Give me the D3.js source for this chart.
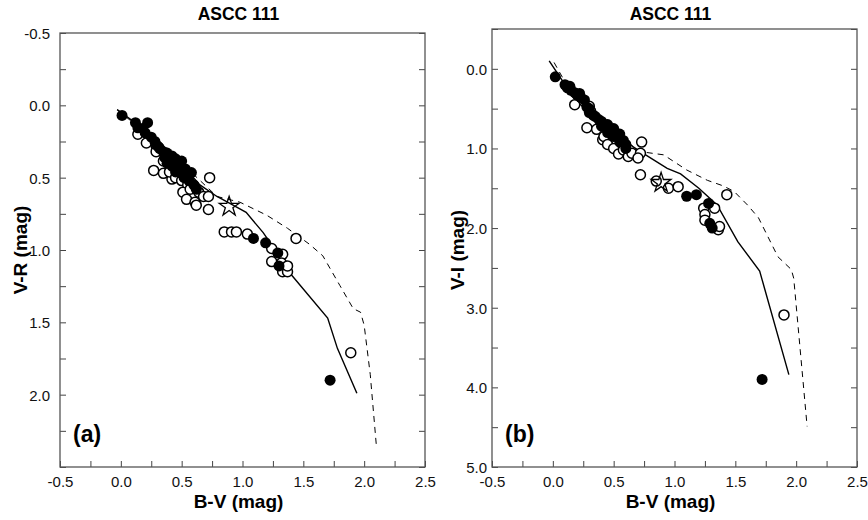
<!DOCTYPE html>
<html>
<head>
    <meta charset="utf-8">
    <script src="https://d3js.org/d3.v7.min.js"></script>
    <style>
        body { margin: 0; background: #fff; }
        text { font-family: "Liberation Sans", Arial, Helvetica, sans-serif; }
    </style>
</head>
<body>
    <script>
        // panel (a): B-V vs V-R
        var vrFilled = [
            [0.01, 0.07], [0.12, 0.12], [0.14, 0.155], [0.22, 0.12], [0.18, 0.16], [0.2, 0.19],
            [0.25, 0.22], [0.28, 0.25], [0.3, 0.28], [0.32, 0.3], [0.35, 0.32], [0.38, 0.33],
            [0.36, 0.36], [0.42, 0.35], [0.4, 0.38], [0.45, 0.37], [0.5, 0.385], [0.48, 0.4],
            [0.38, 0.4], [0.42, 0.42], [0.46, 0.44], [0.5, 0.43], [0.53, 0.44], [0.45, 0.46],
            [0.5, 0.47], [0.55, 0.48], [0.58, 0.465], [0.52, 0.5], [0.56, 0.52], [0.6, 0.55],
            [0.62, 0.58], [1.09, 0.92], [1.19, 0.95], [1.29, 1.02], [1.3, 1.11], [1.72, 1.9]
        ];
        var vrOpen = [
            [0.14, 0.2], [0.21, 0.26], [0.29, 0.28], [0.31, 0.29], [0.29, 0.32], [0.35, 0.385],
            [0.27, 0.45], [0.35, 0.47], [0.42, 0.51], [0.4, 0.46], [0.45, 0.5], [0.5, 0.52],
            [0.55, 0.55], [0.58, 0.55], [0.73, 0.5], [0.51, 0.6], [0.57, 0.58], [0.64, 0.6],
            [0.54, 0.65], [0.61, 0.67], [0.68, 0.63], [0.72, 0.63], [0.72, 0.72], [0.62, 0.69],
            [0.85, 0.875], [0.91, 0.875], [0.95, 0.875], [1.04, 0.89], [1.44, 0.92], [1.24, 0.99],
            [1.33, 1.03], [1.24, 1.08], [1.32, 1.09], [1.33, 1.15], [1.37, 1.15], [1.37, 1.11],
            [1.89, 1.71]
        ];
        var vrStar = [[0.89, 0.7]];
        var vrSolid = [
            [-0.03, 0.03], [0.2, 0.17], [0.45, 0.36], [0.65, 0.55], [0.79, 0.63], [0.9, 0.68],
            [1.03, 0.74], [1.17, 0.88], [1.28, 1.015], [1.36, 1.13], [1.7, 1.47], [1.78, 1.68],
            [1.94, 1.99]
        ];
        var vrDashed = [
            [-0.03, 0.03], [0.45, 0.36], [0.79, 0.63], [0.98, 0.67], [1.2, 0.76], [1.37, 0.85],
            [1.55, 0.96], [1.66, 1.04], [1.8, 1.245], [1.91, 1.405], [1.97, 1.43], [2.0, 1.52],
            [2.05, 1.86], [2.1, 2.35]
        ];

        // panel (b): B-V vs V-I
        var viFilled = [
            [0.02, 0.1], [0.1, 0.2], [0.12, 0.24], [0.14, 0.22], [0.15, 0.27], [0.18, 0.3],
            [0.2, 0.33], [0.22, 0.31], [0.23, 0.36], [0.26, 0.39], [0.28, 0.48], [0.3, 0.5],
            [0.3, 0.55], [0.33, 0.58], [0.35, 0.6], [0.38, 0.64], [0.4, 0.66], [0.42, 0.7],
            [0.4, 0.72], [0.44, 0.72], [0.45, 0.7], [0.46, 0.75], [0.48, 0.78], [0.5, 0.75],
            [0.5, 0.8], [0.45, 0.8], [0.52, 0.84], [0.5, 0.85], [0.55, 0.82], [0.55, 0.87],
            [0.58, 0.9], [0.55, 0.92], [0.6, 0.95], [0.6, 1.0], [1.1, 1.6], [1.18, 1.58],
            [1.28, 1.69], [1.29, 1.94], [1.31, 2.0], [1.72, 3.9]
        ];
        var viOpen = [
            [0.18, 0.45], [0.3, 0.47], [0.31, 0.53], [0.28, 0.74], [0.36, 0.76], [0.41, 0.89],
            [0.42, 0.85], [0.45, 0.95], [0.5, 1.0], [0.54, 1.07], [0.58, 1.02], [0.62, 1.1],
            [0.65, 1.06], [0.72, 1.06], [0.7, 1.12], [0.73, 0.92], [0.72, 1.33], [0.85, 1.41],
            [0.95, 1.5], [1.03, 1.48], [1.43, 1.58], [1.24, 1.75], [1.33, 1.75], [1.25, 1.83],
            [1.25, 1.9], [1.36, 2.02], [1.37, 1.98], [1.9, 3.09]
        ];
        var viStar = [[0.89, 1.43]];
        var viSolid = [
            [-0.03, -0.1], [0.17, 0.36], [0.39, 0.7], [0.67, 0.99], [0.72, 1.04], [0.94, 1.25],
            [1.05, 1.32], [1.2, 1.5], [1.35, 1.71], [1.52, 2.17], [1.7, 2.54], [1.94, 3.84]
        ];
        var viDashed = [
            [0.01, -0.08], [0.08, 0.11], [0.2, 0.36], [0.4, 0.68], [0.72, 1.04], [0.91, 1.08],
            [1.1, 1.27], [1.27, 1.4], [1.4, 1.47], [1.49, 1.54], [1.6, 1.71], [1.69, 1.87],
            [1.85, 2.36], [1.96, 2.52], [1.98, 2.63], [2.09, 4.49]
        ];

        var xTicks = d3.range(-0.5, 2.51, 0.25);
        var xLabels = [-0.5, 0, 0.5, 1, 1.5, 2, 2.5];

        var svg = d3.select("body").append("svg")
            .attr("width", 868)
            .attr("height", 520);

        var panels = [
            {
                left: 60, right: 425, top: 33, bottom: 467, gap: 10,
                yDomain: [-0.5, 2.5], yTicks: d3.range(-0.5, 2.51, 0.25),
                yLabels: [-0.5, 0, 0.5, 1, 1.5, 2],
                yTitle: "V-R (mag)", yTitleX: 20, tag: "(a)",
                filled: vrFilled, open: vrOpen, star: vrStar, solid: vrSolid, dashed: vrDashed
            },
            {
                left: 492, right: 857, top: 29, bottom: 467, gap: 5,
                yDomain: [-0.5, 5.0], yTicks: d3.range(-0.5, 5.01, 0.5),
                yLabels: [0, 1, 2, 3, 4, 5],
                yTitle: "V-I (mag)", yTitleX: 457, tag: "(b)",
                filled: viFilled, open: viOpen, star: viStar, solid: viSolid, dashed: viDashed
            }
        ];

        function isLabel(list, v) {
            return list.some(l => Math.abs(l - v) < 1e-6);
        }

        panels.forEach(p => {
            var x = d3.scaleLinear().domain([-0.5, 2.5]).range([p.left, p.right]);
            var y = d3.scaleLinear().domain(p.yDomain).range([p.top, p.bottom]);
            var g = svg.append("g");

            // title
            g.append("text")
                .attr("x", (p.left + p.right) / 2 - 4)
                .attr("y", 20)
                .attr("text-anchor", "middle")
                .style("font-size", "17.5px")
                .style("font-weight", "bold")
                .text("ASCC 111");

            // bottom axis, ticks inward
            var xAxis = d3.axisBottom(x)
                .tickValues(xTicks)
                .tickSizeInner(-6)
                .tickSizeOuter(0)
                .tickPadding(9)
                .tickFormat(d => isLabel(xLabels, d) ? d.toFixed(1) : "");
            var gx = g.append("g")
                .attr("transform", "translate(0," + p.bottom + ")")
                .call(xAxis);

            // left axis, ticks inward
            var yAxis = d3.axisLeft(y)
                .tickValues(p.yTicks)
                .tickSizeInner(-6)
                .tickSizeOuter(0)
                .tickPadding(p.gap)
                .tickFormat(d => isLabel(p.yLabels, d) ? d.toFixed(1) : "");
            var gy = g.append("g")
                .attr("transform", "translate(" + p.left + ",0)")
                .call(yAxis);

            // right axis, ticks only
            var gr = g.append("g")
                .attr("transform", "translate(" + p.right + ",0)")
                .call(d3.axisRight(y).tickValues(p.yTicks).tickSizeInner(-6).tickSizeOuter(0).tickFormat(""));

            [gx, gy, gr].forEach(a => {
                a.select(".domain").remove();
                a.selectAll("line").attr("stroke", "#444").attr("stroke-width", 1);
                a.selectAll("text")
                    .style("font-size", "15px")
                    .style("font-family", "'Liberation Sans', Arial, sans-serif")
                    .attr("fill", "#111");
            });
            gy.selectAll("text").attr("dy", "0.36em");

            // frame
            g.append("rect")
                .attr("x", p.left)
                .attr("y", p.top)
                .attr("width", p.right - p.left)
                .attr("height", p.bottom - p.top)
                .attr("fill", "none")
                .attr("stroke", "#555")
                .attr("stroke-width", 1.3);

            // axis titles
            g.append("text")
                .attr("x", (p.left + p.right) / 2 - 4)
                .attr("y", 508)
                .attr("text-anchor", "middle")
                .style("font-size", "19px")
                .style("font-weight", "bold")
                .text("B-V (mag)");

            g.append("text")
                .attr("transform", "translate(" + p.yTitleX + ",250) rotate(-90)")
                .attr("text-anchor", "middle")
                .attr("dy", "0.35em")
                .style("font-size", "19px")
                .style("font-weight", "bold")
                .text(p.yTitle);

            g.append("text")
                .attr("x", p.left + 13)
                .attr("y", 442)
                .style("font-size", "23px")
                .style("font-weight", "bold")
                .text(p.tag);

            // isochrones
            var line = d3.line().x(d => x(d[0])).y(d => y(d[1]));
            g.append("path")
                .attr("d", line(p.dashed))
                .attr("fill", "none")
                .attr("stroke", "#000")
                .attr("stroke-width", 1)
                .attr("stroke-dasharray", "6,5");
            g.append("path")
                .attr("d", line(p.solid))
                .attr("fill", "none")
                .attr("stroke", "#000")
                .attr("stroke-width", 1.4);

            // stars
            g.selectAll(".open")
                .data(p.open)
                .enter().append("circle")
                .attr("cx", d => x(d[0]))
                .attr("cy", d => y(d[1]))
                .attr("r", 5)
                .attr("fill", "#fff")
                .attr("stroke", "#000")
                .attr("stroke-width", 1.5);

            g.selectAll(".filled")
                .data(p.filled)
                .enter().append("circle")
                .attr("cx", d => x(d[0]))
                .attr("cy", d => y(d[1]))
                .attr("r", 5.5)
                .attr("fill", "#000");

            g.selectAll(".star")
                .data(p.star)
                .enter().append("path")
                .attr("transform", d => "translate(" + x(d[0]) + "," + y(d[1]) + ")")
                .attr("d", d3.symbol(d3.symbolStar, 120))
                .attr("fill", "none")
                .attr("stroke", "#000")
                .attr("stroke-width", 1.3);
        });
    </script>
</body>
</html>
